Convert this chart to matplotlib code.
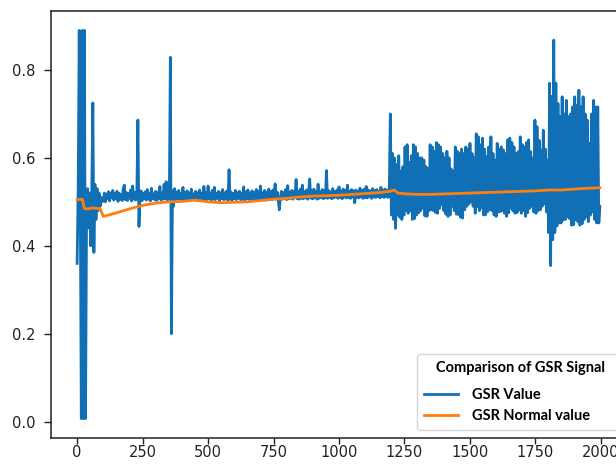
import numpy as np
import matplotlib
matplotlib.use("Agg")
import matplotlib.pyplot as plt

# Skin conductance samples (one value every 4 samples of the recording)
sample_step = 4

# onset: electrode settling artefacts
gsr_onset = [
    0.36, 0.53, 0.89, 0.50, 0.007, 0.89, 0.007, 0.89, 0.007, 0.47,
    0.53, 0.44, 0.52, 0.40, 0.53, 0.725, 0.385, 0.54, 0.46, 0.53,
    0.48, 0.52, 0.49, 0.51, 0.50,
]

# resting period
gsr_rest = [
    0.505, 0.52, 0.50, 0.518, 0.507, 0.523, 0.502, 0.52, 0.51, 0.526,
    0.504, 0.519, 0.508, 0.524, 0.501, 0.52, 0.506, 0.517, 0.503, 0.53,
    0.538, 0.505, 0.521, 0.503, 0.519, 0.508, 0.527, 0.502, 0.536, 0.506,
    0.522, 0.504, 0.52, 0.686, 0.444, 0.51, 0.525, 0.503, 0.519, 0.507,
    0.523, 0.504, 0.528, 0.506, 0.52, 0.502, 0.531, 0.507, 0.518, 0.505,
    0.524, 0.503, 0.521, 0.508, 0.535, 0.504, 0.52, 0.506, 0.54, 0.507,
    0.546, 0.503, 0.522, 0.508, 0.829, 0.20, 0.525, 0.49, 0.53, 0.505,
    0.522, 0.507, 0.526, 0.504, 0.519, 0.508, 0.533, 0.505, 0.521, 0.503,
    0.525, 0.508, 0.52, 0.504, 0.529, 0.506, 0.518, 0.507, 0.524, 0.503,
    0.521, 0.505, 0.527, 0.508, 0.519, 0.504, 0.535, 0.506, 0.522, 0.505,
    0.536, 0.507, 0.52, 0.504, 0.526, 0.506, 0.533, 0.505, 0.519, 0.508,
    0.524, 0.503, 0.521, 0.507, 0.528, 0.505, 0.52, 0.506, 0.525, 0.504,
    0.573, 0.506, 0.522, 0.504, 0.519, 0.507, 0.526, 0.505, 0.521, 0.508,
    0.524, 0.505, 0.52, 0.506, 0.534, 0.504, 0.522, 0.507, 0.527, 0.505,
    0.52, 0.508, 0.525, 0.504, 0.521, 0.506, 0.528, 0.505, 0.523, 0.507,
    0.536, 0.505, 0.52, 0.508, 0.526, 0.504, 0.522, 0.507, 0.529, 0.506,
    0.523, 0.505, 0.527, 0.508, 0.541, 0.506, 0.522, 0.505, 0.482, 0.51,
    0.524, 0.506, 0.521, 0.509, 0.528, 0.505, 0.537, 0.507, 0.522, 0.508,
    0.526, 0.506, 0.523, 0.509, 0.551, 0.507, 0.524, 0.506, 0.529, 0.508,
    0.538, 0.507, 0.523, 0.509, 0.527, 0.506, 0.524, 0.552, 0.508, 0.526,
    0.507, 0.529, 0.509, 0.524, 0.506, 0.54, 0.508, 0.523, 0.51, 0.528,
    0.507, 0.525, 0.509, 0.571, 0.508, 0.526, 0.51, 0.523, 0.507, 0.53,
    0.509, 0.524, 0.511, 0.527, 0.508, 0.534, 0.51, 0.525, 0.507, 0.529,
    0.511, 0.526, 0.509, 0.538, 0.51, 0.524, 0.508, 0.528, 0.511, 0.525,
    0.498, 0.527, 0.51, 0.524, 0.509, 0.531, 0.511, 0.526, 0.508, 0.529,
    0.51, 0.535, 0.509, 0.527, 0.512, 0.525, 0.508, 0.53, 0.511, 0.526,
    0.51, 0.528, 0.512, 0.524, 0.509, 0.533, 0.511, 0.527, 0.51, 0.529,
    0.512, 0.526, 0.51, 0.531,
]

# stimulus period
gsr_task = [
    0.70, 0.47, 0.61, 0.46, 0.60, 0.44, 0.585, 0.47, 0.605, 0.465,
    0.57, 0.46, 0.58, 0.47, 0.625, 0.48, 0.63, 0.474, 0.59, 0.48,
    0.605, 0.46, 0.63, 0.462, 0.625, 0.47, 0.61, 0.475, 0.60, 0.48,
    0.60, 0.486, 0.595, 0.468, 0.58, 0.467, 0.575, 0.48, 0.63, 0.482,
    0.625, 0.48, 0.615, 0.476, 0.635, 0.474, 0.63, 0.485, 0.625, 0.493,
    0.61, 0.48, 0.60, 0.472, 0.615, 0.467, 0.60, 0.47, 0.575, 0.49,
    0.57, 0.48, 0.625, 0.472, 0.615, 0.471, 0.61, 0.465, 0.62, 0.463,
    0.61, 0.482, 0.625, 0.49, 0.62, 0.495, 0.633, 0.50, 0.61, 0.49,
    0.60, 0.474, 0.655, 0.489, 0.648, 0.48, 0.63, 0.486, 0.645, 0.47,
    0.62, 0.471, 0.603, 0.478, 0.625, 0.482, 0.648, 0.48, 0.61, 0.47,
    0.595, 0.467, 0.633, 0.477, 0.62, 0.478, 0.625, 0.48, 0.618, 0.474,
    0.61, 0.467, 0.641, 0.475, 0.645, 0.486, 0.635, 0.48, 0.625, 0.474,
    0.61, 0.476, 0.614, 0.482, 0.648, 0.474, 0.63, 0.48, 0.625, 0.467,
    0.635, 0.475, 0.641, 0.485, 0.614, 0.49, 0.60, 0.477, 0.686, 0.474,
    0.671, 0.48, 0.64, 0.482, 0.618, 0.49, 0.663, 0.495, 0.62, 0.477,
    0.595, 0.43, 0.77, 0.355, 0.74, 0.414, 0.868, 0.43, 0.77, 0.445,
    0.724, 0.452, 0.694, 0.452, 0.739, 0.459, 0.70, 0.46, 0.731, 0.466,
    0.694, 0.462, 0.70, 0.447, 0.716, 0.448, 0.739, 0.459, 0.72, 0.455,
    0.754, 0.447, 0.716, 0.45, 0.739, 0.46, 0.70, 0.466, 0.686, 0.455,
    0.633, 0.47, 0.70, 0.477, 0.731, 0.46, 0.716, 0.452, 0.716, 0.452,
    0.49,
]

# running baseline ("normal" level)
normal_t = [0, 20, 28, 40, 60, 80, 88, 100, 120, 150, 200, 250, 300, 350,
            400, 450, 500, 550, 600, 650, 700, 750, 800, 850, 900, 950,
            1000, 1050, 1100, 1150, 1195, 1210, 1225, 1260, 1300, 1350,
            1400, 1450, 1500, 1550, 1600, 1650, 1700, 1750, 1800, 1850,
            1900, 1950, 1996]
normal_v = [0.505, 0.506, 0.485, 0.484, 0.486, 0.485, 0.484, 0.467, 0.470,
            0.475, 0.484, 0.492, 0.497, 0.500, 0.501, 0.504, 0.500, 0.498,
            0.499, 0.500, 0.503, 0.506, 0.508, 0.511, 0.513, 0.514, 0.515,
            0.517, 0.519, 0.521, 0.524, 0.527, 0.520, 0.518, 0.517, 0.517,
            0.518, 0.519, 0.520, 0.521, 0.522, 0.523, 0.524, 0.525, 0.527,
            0.527, 0.529, 0.531, 0.532]

legend_title = "Comparison of GSR Signal"
series_labels = ["GSR Value", "GSR Normal value"]

gsr = np.array(gsr_onset + gsr_rest + gsr_task)
sample = np.arange(len(gsr)) * sample_step

fig = plt.figure(figsize=(6.16, 4.66), dpi=100)
ax = fig.add_axes([51 / 616, 28 / 466, 575 / 616, 427 / 466])

ax.plot(sample, gsr, color="#1170b5", lw=2.0, label=series_labels[0])
ax.plot(normal_t, normal_v, color="#ff7f0e", lw=2.0, label=series_labels[1])

ax.set_yticks([0.0, 0.2, 0.4, 0.6, 0.8])
ax.set_xticks([0, 250, 500, 750, 1000, 1250, 1500, 1750, 2000])
ax.tick_params(labelsize=10.5, width=1, colors="#222222")
ax.tick_params(axis="y", length=5, pad=6)
ax.tick_params(axis="x", length=4.5, pad=0.5)
for s in ax.spines.values():
    s.set_linewidth(1.1)
    s.set_color("#222222")

leg_font = {"family": "Lato", "weight": "bold", "size": 10.5}
leg = ax.legend(loc="lower left", mode="expand",
                bbox_to_anchor=(366 / 575, 8 / 427, 206 / 575, 0.2),
                borderaxespad=0, title=legend_title,
                prop=leg_font, title_fontproperties=leg_font,
                handlelength=2.3, handletextpad=0.95, labelspacing=0.44,
                borderpad=0.5, fancybox=True)
leg._legend_box.sep = 9.5

fig.savefig("out.png", dpi=100)
